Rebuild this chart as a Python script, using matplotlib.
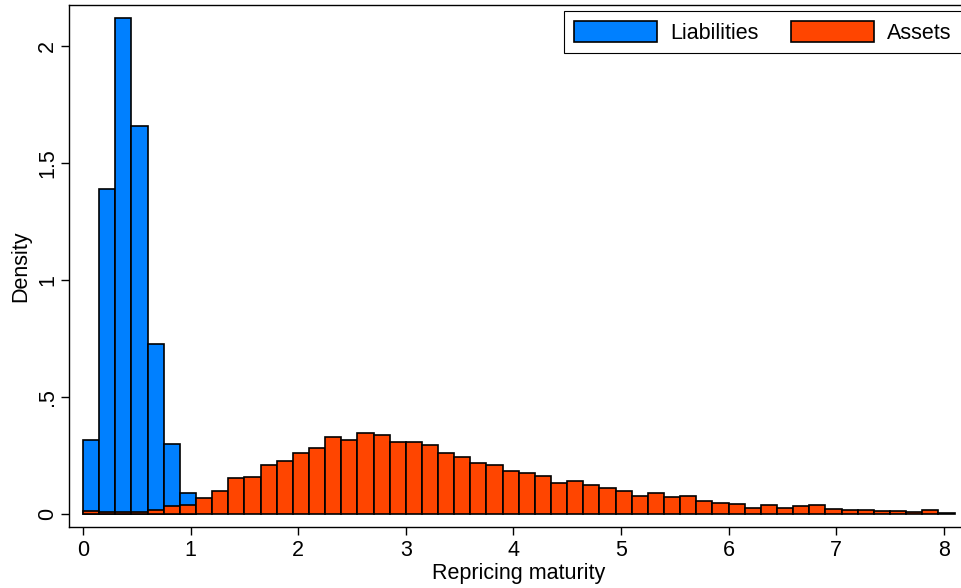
import numpy as np
import matplotlib
matplotlib.use("Agg")
import matplotlib.pyplot as plt

plt.rcParams['font.family'] = ['Liberation Sans', 'DejaVu Sans']

# histogram bins (width 0.15)
bin_width = 0.15
liab_density = [0.318, 1.39, 2.12, 1.656, 0.728, 0.297, 0.089]
asset_density = [0.013, 0.008, 0.01, 0.01, 0.018, 0.034, 0.04,
                 0.068, 0.10, 0.152, 0.158, 0.208, 0.228, 0.262, 0.283,
                 0.328, 0.318, 0.345, 0.339, 0.308, 0.309, 0.296, 0.259,
                 0.242, 0.218, 0.208, 0.184, 0.177, 0.16, 0.134, 0.14,
                 0.125, 0.11, 0.098, 0.078, 0.09, 0.071, 0.075, 0.056,
                 0.048, 0.041, 0.027, 0.038, 0.026, 0.033, 0.036, 0.02,
                 0.017, 0.016, 0.013, 0.014, 0.009, 0.017, 0.003]
xticks = [0, 1, 2, 3, 4, 5, 6, 7, 8]
yticks = [0, 0.5, 1, 1.5, 2]
ylabels = ['0', '.5', '1', '1.5', '2']

liab_edges = np.arange(len(liab_density)) * bin_width
asset_edges = np.arange(len(asset_density)) * bin_width

fig = plt.figure(figsize=(9.61, 5.88), dpi=100)
# plot region runs a little past the right edge of the image, as in the original
ax = fig.add_axes([0.0718, 0.1037, 0.9355, 0.8878])

ax.bar(liab_edges, liab_density, width=bin_width, align='edge',
       color='#0080FF', edgecolor='black', linewidth=1.2, label='Liabilities')
ax.bar(asset_edges, asset_density, width=bin_width, align='edge',
       color='#FF4500', edgecolor='black', linewidth=1.2, label='Assets')

ax.set_xlim(-0.13, 8.225)
ax.set_ylim(-0.056, 2.175)
ax.set_xticks(xticks)
ax.set_yticks(yticks)
ax.set_yticklabels(ylabels, rotation=90, va='center')
ax.tick_params(axis='both', labelsize=15.5, length=6, width=1, direction='out')
ax.tick_params(axis='y', pad=2)
for s in ax.spines.values():
    s.set_linewidth(1)
ax.set_xlabel('Repricing maturity', fontsize=15.5, labelpad=1)
ax.set_ylabel('Density', fontsize=15.5, labelpad=4)

leg = ax.legend(loc='upper right', ncol=2, fontsize=15.5, frameon=True,
                fancybox=False, edgecolor='black', framealpha=1,
                handlelength=3.86, handleheight=1.1, handletextpad=0.6,
                columnspacing=1.53, borderaxespad=0.3, borderpad=0.45)
leg.get_frame().set_linewidth(0.8)

fig.savefig('out.png', dpi=100)
